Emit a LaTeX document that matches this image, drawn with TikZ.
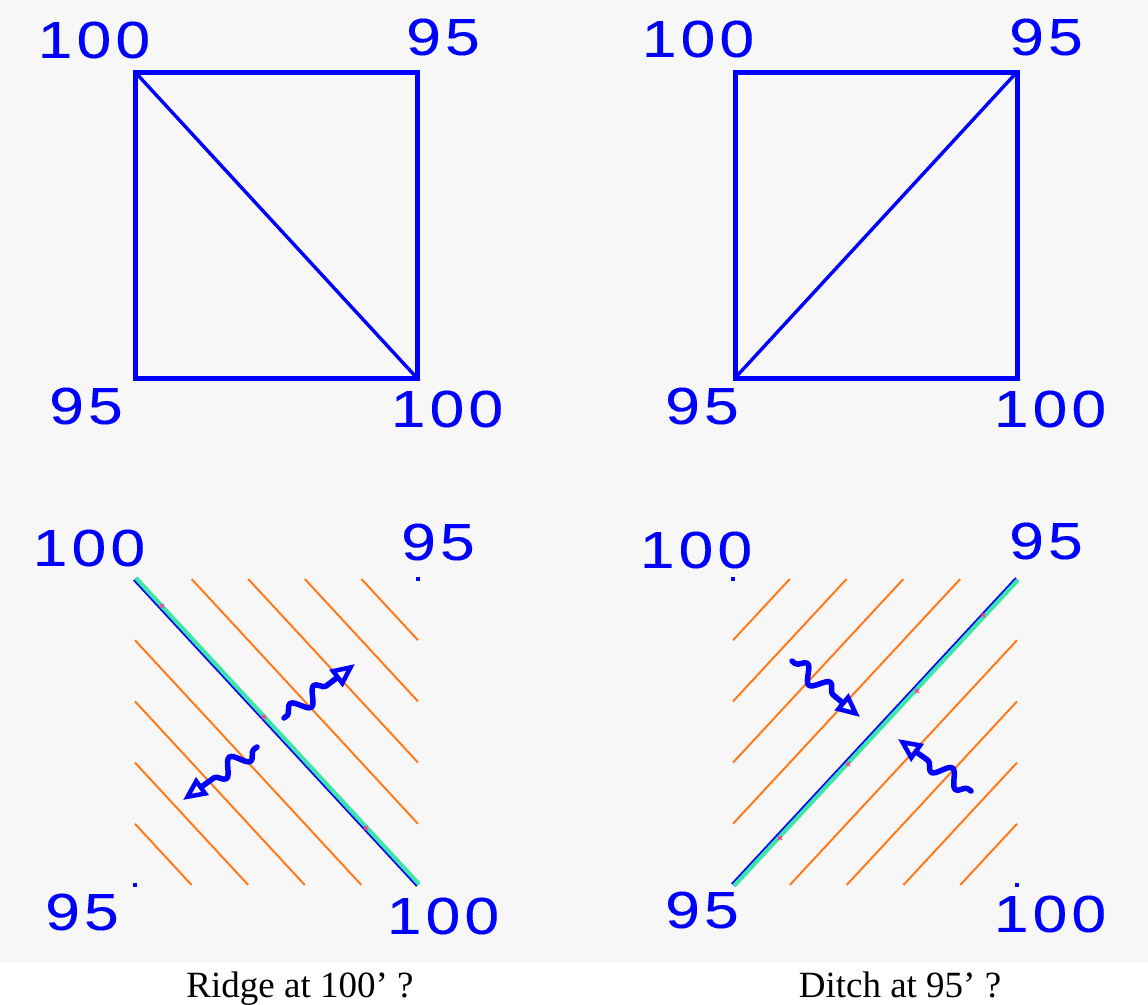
\documentclass[tikz,border=0pt]{standalone}
\usepackage{fontspec}
\usetikzlibrary{arrows.meta,decorations.pathmorphing,calc}
\setmainfont{Liberation Serif}
\newfontfamily\lblfont[FakeStretch=1.2,LetterSpace=8,FakeBold=0.2]{Liberation Sans}
\definecolor{bg}{HTML}{F7F7F7}
\definecolor{pblue}{HTML}{0000FF}
\definecolor{hatch}{HTML}{FF7A1A}
\definecolor{ridge}{HTML}{3CE6AA}
\definecolor{pinkmark}{HTML}{FF3C8C}
\begin{document}
\begin{tikzpicture}[x=1pt,y=-1pt,
  lbl/.style={text=pblue,font=\lblfont\fontsize{52}{52}\selectfont,inner sep=0pt,anchor=center},
  captext/.style={text=black,font=\fontsize{37}{40}\selectfont,inner sep=0pt,anchor=base},
  sq/.style={draw=pblue,line width=5pt,line join=miter},
  diag/.style={draw=pblue,line width=3.4pt},
  hatchline/.style={draw=hatch,line width=2pt},
  ridgeline/.style={draw=ridge,line width=4.2pt},
  ridgeedge/.style={draw=pblue,line width=5pt},
  cornerdot/.style={fill=pblue},
  tick/.style={draw=pinkmark,line width=1.2pt},
  wavy/.style={draw=pblue,line width=5.5pt,line cap=round,line join=round,
    decorate,decoration={snake,amplitude=8pt,segment length=30pt,pre length=4pt,post length=24pt},
    -{Triangle[open,length=24pt,width=21pt,line width=4.5pt]}}
]
% background
\fill[bg] (0,0) rectangle (1148,963);
\fill[white] (0,963) rectangle (1148,1004);
\useasboundingbox (0,0) rectangle (1148,1004);

% ---------------- top-left square ----------------
\coordinate (a1) at (135,72);
\coordinate (b1) at (417,72);
\coordinate (c1) at (417,378);
\coordinate (d1) at (135,378);
\draw[sq] (a1) -- (b1) -- (c1) -- (d1) -- cycle;
\draw[diag] (a1) -- (c1);
\node[lbl] (ta1) at (94,40) {100};
\node[lbl] (tb1) at (443,37) {95};
\node[lbl] (td1) at (86,406) {95};
\node[lbl] (tc1) at (447,409) {100};

% ---------------- top-right square ----------------
\coordinate (a2) at (735,72);
\coordinate (b2) at (1017,72);
\coordinate (c2) at (1017,378);
\coordinate (d2) at (735,378);
\draw[sq] (a2) -- (b2) -- (c2) -- (d2) -- cycle;
\draw[diag] (d2) -- (b2);
\node[lbl] (ta2) at (698,39) {100};
\node[lbl] (tb2) at (1046,37) {95};
\node[lbl] (td2) at (702,406) {95};
\node[lbl] (tc2) at (1050,409) {100};

% ---------------- bottom-left panel ----------------
\coordinate (a3) at (135,579);
\coordinate (b3) at (418,579);
\coordinate (c3) at (418,885);
\coordinate (d3) at (135,885);
\foreach \k in {1,2,3,4}{
  \draw[hatchline] ($(a3)+(\k*56.6,0)$) -- ($(c3)-(0,\k*61.2)$);
  \draw[hatchline] ($(a3)+(0,\k*61.2)$) -- ($(c3)-(\k*56.6,0)$);
}
\draw[ridgeedge] (a3) -- (c3);
\draw[ridgeline] ($(a3)+(1,-0.9)$) -- ($(c3)+(1,-0.9)$);
\fill[cornerdot] ($(b3)+(-2,-2)$) rectangle ++(4,4);
\fill[cornerdot] ($(d3)+(-2,-2)$) rectangle ++(4,4);
\foreach \p in {(162,606),(264,717),(366,828)}{
  \draw[tick] \p ++(-2,-2) -- ++(4,4) \p ++(-2,2) -- ++(4,-4);
}
\node[lbl] (ba3) at (89,548) {100};
\node[lbl] (bb3) at (438,542) {95};
\node[lbl] (bd3) at (82,912) {95};
\node[lbl] (bc3) at (443,916) {100};
\coordinate (w1s) at (284,718);
\coordinate (w1e) at (355,664);
\coordinate (w2s) at (257,747);
\coordinate (w2e) at (183,800);
\draw[wavy] (w1s) -- (w1e);
\draw[wavy] (w2s) -- (w2e);

% ---------------- bottom-right panel ----------------
\coordinate (a4) at (733,579);
\coordinate (b4) at (1017,579);
\coordinate (c4) at (1017,885);
\coordinate (d4) at (733,885);
\foreach \k in {1,2,3,4}{
  \draw[hatchline] ($(a4)+(0,\k*61.2)$) -- ($(a4)+(\k*56.8,0)$);
  \draw[hatchline] ($(d4)+(\k*56.8,0)$) -- ($(c4)-(0,306-\k*61.2)$);
}
\draw[ridgeedge] (d4) -- (b4);
\draw[ridgeline] ($(d4)+(1,0.9)$) -- ($(b4)+(1,0.9)$);
\fill[cornerdot] ($(a4)+(-2,-2)$) rectangle ++(4,4);
\fill[cornerdot] ($(c4)+(-2,-2)$) rectangle ++(4,4);
\foreach \p in {(983,615),(917,691),(848,764),(780,838)}{
  \draw[tick] \p ++(-2,-2) -- ++(4,4) \p ++(-2,2) -- ++(4,-4);
}
\node[lbl] (ba4) at (696,550) {100};
\node[lbl] (bb4) at (1046,541) {95};
\node[lbl] (bd4) at (702,910) {95};
\node[lbl] (bc4) at (1050,914) {100};
\coordinate (w3s) at (792,661);
\coordinate (w3e) at (860,717);
\coordinate (w4s) at (971,791);
\coordinate (w4e) at (898,739);
\draw[wavy] (w3s) -- (w3e);
\draw[wavy] (w4s) -- (w4e);

% ---------------- captions ----------------
\node[captext] (cap1) at (300,997) {Ridge at 100’ ?};
\node[captext] (cap2) at (900,997) {Ditch at 95’ ?};
\end{tikzpicture}
\end{document}
